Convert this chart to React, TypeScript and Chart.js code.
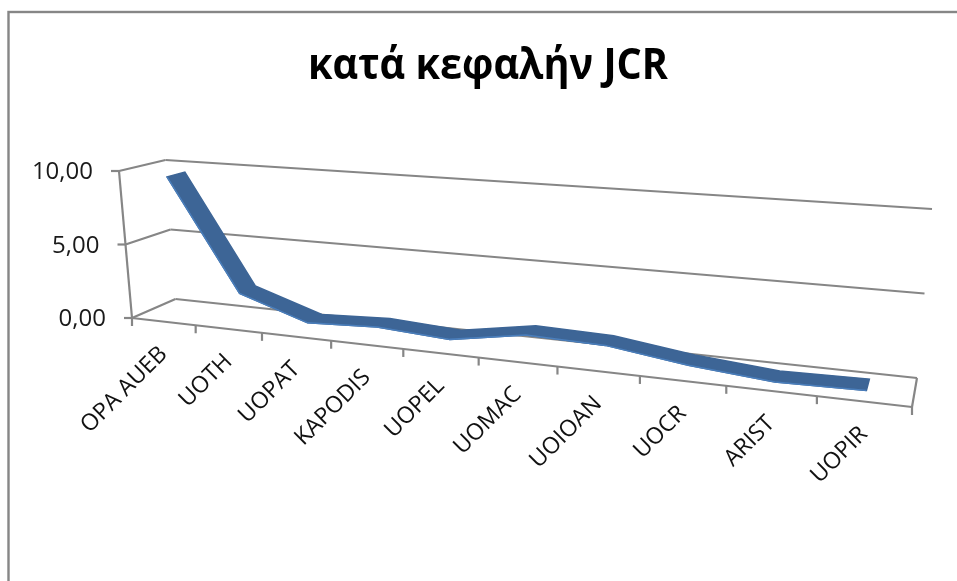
import React, { useEffect, useRef } from "react";
import { Chart, registerables } from "chart.js";

Chart.register(...registerables);

const titleText = "κατά κεφαλήν JCR";
const categories = ["OPA AUEB", "UOTH", "UOPAT", "KAPODIS", "UOPEL", "UOMAC", "UOIOAN", "UOCR", "ARIST", "UOPIR"];
const values = [9.5, 1.95, 0.46, 0.68, 0.4, 1.2, 1.08, 0.42, 0.0, 0.1];
const yMax = 10;
const yStep = 5;

// 3D box of the plot, as the picture shows it
const box = {
  fl: [132, 318], fr: [912, 407], bl: [175.5, 299], br: [917, 378],
  tfl: [119, 171], tfr: [928, 229], tbl: [165.5, 160], tbr: [932, 209],
};
const PERSPECTIVE = 1.25;
const FRONT_D = 0.33;
const BACK_D = 0.73;
const GREY = "#868686";

const lerp = (a: number[], b: number[], t: number) => [a[0] + (b[0] - a[0]) * t, a[1] + (b[1] - a[1]) * t];
const warp = (u: number) => u / (u + (1 - u) * PERSPECTIVE);
function project(u: number, v: number, d: number) {
  const w = warp(u);
  const floor = lerp(lerp(box.fl, box.fr, w), lerp(box.bl, box.br, w), d);
  const top = lerp(lerp(box.tfl, box.tfr, w), lerp(box.tbl, box.tbr, w), d);
  return lerp(floor, top, v);
}

const uOf = (chart: any, i: number) => {
  const s = chart.scales.x;
  return (s.getPixelForValue(i) - s.left) / s.width;
};
const vOf = (chart: any, val: number) => {
  const s = chart.scales.y;
  return (s.bottom - s.getPixelForValue(val)) / (s.bottom - s.top);
};

const seg = (ctx: CanvasRenderingContext2D, a: number[], b: number[]) => {
  ctx.beginPath();
  ctx.moveTo(a[0], a[1]);
  ctx.lineTo(b[0], b[1]);
  ctx.stroke();
};

const perspectivePlugin = {
  id: "perspective",
  afterDatasetsUpdate(chart: any) {
    const meta = chart.getDatasetMeta(0);
    meta.data.forEach((pt: any, i: number) => {
      const p = project(uOf(chart, i), vOf(chart, values[i]), FRONT_D);
      pt.x = p[0];
      pt.y = p[1];
    });
  },
  beforeDatasetsDraw(chart: any) {
    const ctx: CanvasRenderingContext2D = chart.ctx;
    ctx.save();
    // outer frame
    ctx.strokeStyle = GREY;
    ctx.lineWidth = 2.4;
    ctx.strokeRect(8.5, 12, 1000, 700);

    // title
    ctx.fillStyle = "#000";
    ctx.font = "bold 43px 'Open Sans'";
    ctx.textAlign = "center";
    ctx.textBaseline = "alphabetic";
    ctx.fillText(titleText, 488, 79, 360);

    ctx.strokeStyle = GREY;
    ctx.lineWidth = 2.2;
    // walls and grid from the value axis ticks
    const yTicks = chart.scales.y.ticks;
    ctx.font = "24px 'Open Sans'";
    ctx.textAlign = "right";
    ctx.fillStyle = "#1a1a1a";
    yTicks.forEach((t: any) => {
      const v = vOf(chart, t.value);
      const a = project(0, v, 0);
      const b = project(0, v, 1);
      const c = project(1, v, 1);
      seg(ctx, a, b);
      seg(ctx, b, c);
      seg(ctx, [a[0] - 8, a[1]], a);
      ctx.fillText(t.label, a[0] - 26, a[1] + 8);
    });
    seg(ctx, project(0, 0, 0), project(0, 1, 0));
    seg(ctx, project(0, 0, 0), project(1, 0, 0));
    seg(ctx, project(1, 0, 0), project(1, 0, 1));

    // category ticks and labels
    const n = categories.length;
    for (let i = 0; i <= n; i++) {
      const p = project(i / n, 0, 0);
      seg(ctx, p, [p[0], p[1] + 8]);
    }
    ctx.font = "23px 'Open Sans'";
    ctx.fillStyle = "#111";
    categories.forEach((c, i) => {
      const p = project(uOf(chart, i), 0, 0);
      ctx.save();
      ctx.translate(p[0], p[1] + 29);
      ctx.rotate(-Math.PI / 4);
      ctx.textAlign = "right";
      ctx.textBaseline = "middle";
      ctx.fillText(c, 0, 0);
      ctx.restore();
    });

    // ribbon of the 3D line
    ctx.fillStyle = "#3d6596";
    ctx.strokeStyle = "#3d6596";
    ctx.lineWidth = 1.5;
    ctx.lineJoin = "miter";
    ctx.beginPath();
    values.forEach((val, i) => {
      const p = project(uOf(chart, i), vOf(chart, val), FRONT_D);
      if (i === 0) ctx.moveTo(p[0], p[1]);
      else ctx.lineTo(p[0], p[1]);
    });
    for (let i = values.length - 1; i >= 0; i--) {
      const p = project(uOf(chart, i), vOf(chart, values[i]), BACK_D);
      ctx.lineTo(p[0], p[1]);
    }
    ctx.closePath();
    ctx.fill();
    ctx.stroke();
    ctx.restore();
  },
};

export default function App() {
  const ref = useRef<HTMLCanvasElement>(null);
  useEffect(() => {
    document.body.style.margin = "0";
    document.body.style.background = "#fff";
    const chart = new Chart(ref.current!, {
      type: "line",
      data: {
        labels: categories,
        datasets: [
          {
            label: titleText,
            data: values,
            borderColor: "#4a7ebb",
            borderWidth: 1.5,
            pointRadius: 0,
            tension: 0,
            clip: false,
          } as any,
        ],
      },
      options: {
        animation: false,
        responsive: false,
        events: [],
        layout: { padding: { left: 132, right: 45, top: 171, bottom: 263 } },
        plugins: { legend: { display: false }, tooltip: { enabled: false } },
        scales: {
          x: { display: false, offset: true, grid: { offset: true } },
          y: {
            display: false,
            min: 0,
            max: yMax,
            ticks: { stepSize: yStep, callback: (v: any) => Number(v).toFixed(2).replace(".", ",") },
          },
        },
      },
      plugins: [perspectivePlugin],
    } as any);
    return () => chart.destroy();
  }, []);
  return <canvas ref={ref} width={957} height={581} style={{ display: "block", width: 957, height: 581 }} />;
}
